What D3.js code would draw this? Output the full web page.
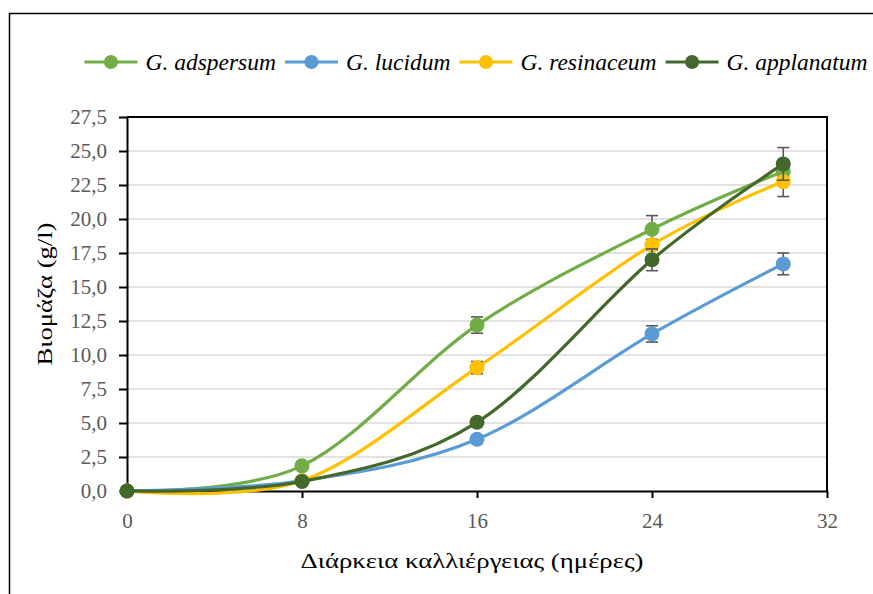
<!DOCTYPE html>
<html>
<head>
<meta charset="utf-8">
<script src="https://cdn.jsdelivr.net/npm/d3@7"></script>
</head>
<body style="margin:0">
<svg id="chart" width="873" height="594"></svg>
<script>
// Culture duration (days)
const days = [0, 8, 16, 24, 30];

// Biomass (g/l) per species
const seriesNames = ["G. adspersum", "G. lucidum", "G. resinaceum", "G. applanatum"];
const adspersum   = [0, 1.85, 12.2, 19.25, 23.5];
const lucidum     = [0, 0.75, 3.8, 11.55, 16.7];
const resinaceum  = [0, 0.75, 9.07, 18.1, 22.75];
const applanatum  = [0, 0.7, 5.05, 17.0, 24.05];

// Standard deviations
const adspersumErr  = [0, 0.15, 0.6, 1.0, 0.4];
const lucidumErr    = [0, 0.1, 0.3, 0.6, 0.8];
const resinaceumErr = [0, 0.1, 0.45, 0.4, 1.1];
const applanatumErr = [0, 0.1, 0.3, 0.8, 1.2];

const colors = ["#70AD47", "#5B9BD5", "#FFC000", "#43682B"];

const xTicks = [0, 8, 16, 24, 32];
const yTicks = [0, 2.5, 5, 7.5, 10, 12.5, 15, 17.5, 20, 22.5, 25, 27.5];

const series = [
  { name: seriesNames[0], values: adspersum,  err: adspersumErr,  color: colors[0] },
  { name: seriesNames[1], values: lucidum,    err: lucidumErr,    color: colors[1] },
  { name: seriesNames[2], values: resinaceum, err: resinaceumErr, color: colors[2] },
  { name: seriesNames[3], values: applanatum, err: applanatumErr, color: colors[3] }
];

const serif = sel => sel
  .attr("font-family", "Liberation Serif")
  .style("font-family", `"Liberation Serif"`);

const svg = d3.select("#chart");
const plot = { left: 127, right: 827, top: 117, bottom: 491 };

const x = d3.scaleLinear().domain([0, 32]).range([plot.left, plot.right]);
const y = d3.scaleLinear().domain([0, 27.5]).range([plot.bottom, plot.top]);

// Outer chart frame
svg.append("rect")
  .attr("x", 9.5).attr("y", 13.5)
  .attr("width", 880).attr("height", 600)
  .attr("fill", "none").attr("stroke", "#000").attr("stroke-width", 1.5);

// Horizontal gridlines
svg.append("g")
  .selectAll("line")
  .data(yTicks.filter(t => t > 0 && t < 27.5))
  .join("line")
  .attr("x1", plot.left).attr("x2", plot.right)
  .attr("y1", d => y(d)).attr("y2", d => y(d))
  .attr("stroke", "#D9D9D9").attr("stroke-width", 1.5);

// Plot-area frame (top and right edges)
svg.append("path")
  .attr("d", `M${plot.left},${plot.top}H${plot.right}V${plot.bottom}`)
  .attr("fill", "none").attr("stroke", "#000").attr("stroke-width", 2);

// Axes
const fmt = d => d3.format(".1f")(d).replace(".", ",");

const yAxis = svg.append("g")
  .attr("transform", `translate(${plot.left},0)`)
  .call(d3.axisLeft(y).tickValues(yTicks).tickFormat(fmt).tickSize(8).tickPadding(12).tickSizeOuter(0));

const xAxis = svg.append("g")
  .attr("transform", `translate(0,${plot.bottom})`)
  .call(d3.axisBottom(x).tickValues(xTicks).tickFormat(d3.format("d")).tickSize(7).tickPadding(15).tickSizeOuter(0));

[yAxis, xAxis].forEach(g => {
  serif(g).attr("font-size", 21);
  g.select(".domain").attr("stroke", "#000").attr("stroke-width", 2);
  g.selectAll(".tick line").attr("stroke", "#000").attr("stroke-width", 2);
  serif(g.selectAll(".tick text"))
    .attr("fill", "#595959")
    .attr("font-size", 21);
});

// Axis titles
serif(svg.append("text"))
  .attr("transform", "translate(52,294) rotate(-90)")
  .attr("text-anchor", "middle")
  .attr("font-size", 22)
  .attr("textLength", 143)
  .attr("lengthAdjust", "spacingAndGlyphs")
  .attr("fill", "#000")
  .text("Βιομάζα (g/l)");

serif(svg.append("text"))
  .attr("x", 472)
  .attr("y", 568)
  .attr("text-anchor", "middle")
  .attr("font-size", 21.5)
  .attr("textLength", 343)
  .attr("lengthAdjust", "spacingAndGlyphs")
  .attr("fill", "#000")
  .text("Διάρκεια καλλιέργειας (ημέρες)");

// Smoothed series lines, error bars and markers
const line = d3.line()
  .x(d => x(d[0]))
  .y(d => y(d[1]))
  .curve(d3.curveCardinal.tension(0));

series.forEach(s => {
  const pts = days.map((d, i) => [d, s.values[i], s.err[i]]);
  const g = svg.append("g");

  g.append("path")
    .attr("d", line(pts))
    .attr("fill", "none")
    .attr("stroke", s.color)
    .attr("stroke-width", 3.2)
    .attr("stroke-linecap", "round");

  const eb = g.append("g").selectAll("g")
    .data(pts.filter(p => p[2] > 0))
    .join("g")
    .attr("stroke", "#595959")
    .attr("stroke-width", 1.6);
  eb.append("line")
    .attr("x1", p => x(p[0])).attr("x2", p => x(p[0]))
    .attr("y1", p => y(p[1] - p[2])).attr("y2", p => y(p[1] + p[2]));
  eb.append("line")
    .attr("x1", p => x(p[0]) - 6).attr("x2", p => x(p[0]) + 6)
    .attr("y1", p => y(p[1] + p[2])).attr("y2", p => y(p[1] + p[2]));
  eb.append("line")
    .attr("x1", p => x(p[0]) - 6).attr("x2", p => x(p[0]) + 6)
    .attr("y1", p => y(p[1] - p[2])).attr("y2", p => y(p[1] - p[2]));

  g.append("g").selectAll("circle")
    .data(pts)
    .join("circle")
    .attr("cx", p => x(p[0]))
    .attr("cy", p => y(p[1]))
    .attr("r", 7.5)
    .attr("fill", s.color);
});

// Legend: line-with-marker swatch followed by the species name
const swatchW = 53, textGap = 8, itemGap = 9;
const legend = svg.append("g").attr("transform", "translate(0,62)");
const items = legend.selectAll("g")
  .data(series)
  .join("g");
items.append("line")
  .attr("x1", 0).attr("x2", swatchW)
  .attr("stroke", d => d.color).attr("stroke-width", 3.2);
items.append("circle")
  .attr("cx", swatchW / 2).attr("r", 7)
  .attr("fill", d => d.color);
serif(items.append("text"))
  .attr("x", swatchW + textGap)
  .attr("dy", "0.33em")
  .attr("font-size", 23.5)
  .attr("font-style", "italic")
  .attr("fill", "#000")
  .text(d => d.name);

let cursor = 0;
const offsets = [];
items.each(function () {
  offsets.push(cursor);
  const w = swatchW + textGap + d3.select(this).select("text").node().getComputedTextLength();
  cursor += w + itemGap;
});
const start = 476 - (cursor - itemGap) / 2;
items.attr("transform", (d, i) => `translate(${start + offsets[i]},0)`);
</script>
</body>
</html>
